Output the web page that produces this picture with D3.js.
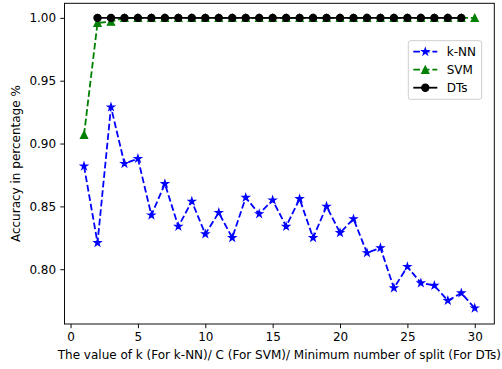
<!DOCTYPE html>
<html lang="en">
<head>
  <meta charset="UTF-8">
  <title>Accuracy</title>
  <script src="https://cdn.jsdelivr.net/npm/d3@7"></script>
  <style>
    body { margin: 0; background: #fff; }
    svg text { font-family: "DejaVu Sans", sans-serif; fill: #000; }
  </style>
</head>
<body>
  <div id="app"></div>
<script>
  // values
  const kValues = [1, 2, 3, 4, 5, 6, 7, 8, 9, 10, 11, 12, 13, 14, 15,
    16, 17, 18, 19, 20, 21, 22, 23, 24, 25, 26, 27, 28, 29, 30];
  const knnAcc = [0.882, 0.821, 0.929, 0.884, 0.888, 0.843, 0.868, 0.834, 0.854, 0.828,
    0.845, 0.825, 0.857, 0.844, 0.855, 0.834, 0.856, 0.825, 0.850, 0.829,
    0.840, 0.813, 0.817, 0.785, 0.802, 0.789, 0.787, 0.775, 0.781, 0.769];
  const svmAcc = [0.907, 0.996, 0.997, 1, 1, 1, 1, 1, 1, 1,
    1, 1, 1, 1, 1, 1, 1, 1, 1, 1,
    1, 1, 1, 1, 1, 1, 1, 1, 1, 1];
  const splitValues = [2, 3, 4, 5, 6, 7, 8, 9, 10, 11, 12, 13, 14, 15, 16,
    17, 18, 19, 20, 21, 22, 23, 24, 25, 26, 27, 28, 29];
  const dtAcc = [1, 1, 1, 1, 1, 1, 1, 1, 1, 1, 1, 1, 1, 1,
    1, 1, 1, 1, 1, 1, 1, 1, 1, 1, 1, 1, 1, 1];
  const xTicks = [0, 5, 10, 15, 20, 25, 30];
  const yTicks = [0.80, 0.85, 0.90, 0.95, 1.00];

  const w = 502;
  const h = 369;
  const padL = 64.5, padR = 494.3, padT = 3.3, padB = 324;
  const fs = 12;
  const k = 1.2; // pt -> px

  const xScale = d3.scaleLinear().domain([-0.45, 31.45]).range([padL, padR]);
  const yScale = d3.scaleLinear().domain([0.7564, 1.0116]).range([padB, padT]);

  const svg = d3.select('#app').append('svg')
    .attr('width', w)
    .attr('height', h);

  // marker shapes, matplotlib-like with markersize 6pt
  const ms = 3 * k;
  function starPath(r) {
    const pts = [];
    for (let i = 0; i < 10; i++) {
      const rr = i % 2 === 0 ? r : r * 0.381966;
      const a = -Math.PI / 2 + i * Math.PI / 5;
      pts.push([rr * Math.cos(a), rr * Math.sin(a)]);
    }
    return 'M' + pts.map(p => p.join(',')).join('L') + 'Z';
  }
  const markers = {
    star: starPath(ms),
    tri: `M0,${-ms}L${-ms},${ms}L${ms},${ms}Z`,
    circle: d3.symbol().type(d3.symbolCircle).size(Math.PI * ms * ms)()
  };

  const dash = `${3.7 * 1.5 * k},${1.6 * 1.5 * k}`;
  const series = [
    { name: 'k-NN', xs: kValues, ys: knnAcc, color: '#0000ff', dash: dash, marker: 'star' },
    { name: 'SVM', xs: kValues, ys: svmAcc, color: '#008000', dash: dash, marker: 'tri' },
    { name: 'DTs', xs: splitValues, ys: dtAcc, color: '#000000', dash: null, marker: 'circle' }
  ];

  const line = d3.line().x(d => xScale(d[0])).y(d => yScale(d[1]));

  const plot = svg.append('g');

  series.forEach(s => {
    const pts = s.xs.map((x, i) => [x, s.ys[i]]);
    plot.append('path')
      .attr('d', line(pts))
      .attr('fill', 'none')
      .attr('stroke', s.color)
      .attr('stroke-width', 1.5 * k)
      .attr('stroke-dasharray', s.dash);
    plot.selectAll(null)
      .data(pts)
      .enter()
      .append('path')
      .attr('d', markers[s.marker])
      .attr('transform', d => `translate(${xScale(d[0])},${yScale(d[1])})`)
      .attr('fill', s.color)
      .attr('stroke', s.color)
      .attr('stroke-width', k);
  });

  // axes
  const xAxis = d3.axisBottom(xScale).tickValues(xTicks).tickSize(3.5 * k).tickPadding(3.5 * k);
  const yAxis = d3.axisLeft(yScale).tickValues(yTicks).tickFormat(d3.format('.2f'))
    .tickSize(3.5 * k).tickPadding(3.5 * k);

  const gx = svg.append('g')
    .attr('transform', `translate(0, ${padB})`)
    .call(xAxis);
  const gy = svg.append('g')
    .attr('transform', `translate(${padL}, 0)`)
    .call(yAxis);
  [gx, gy].forEach(g => {
    g.select('.domain').remove();
    g.selectAll('line').attr('stroke', '#000').attr('stroke-width', 0.8 * k);
    g.selectAll('text').style('font-size', fs + 'px').attr('fill', '#000');
  });

  svg.append('rect')
    .attr('x', padL).attr('y', padT)
    .attr('width', padR - padL).attr('height', padB - padT)
    .attr('fill', 'none')
    .attr('stroke', '#000')
    .attr('stroke-width', 0.8 * k);

  svg.append('text')
    .attr('x', (padL + padR) / 2)
    .attr('y', 358.5)
    .attr('text-anchor', 'middle')
    .style('font-size', fs + 'px')
    .text('The value of k (For k-NN)/ C (For SVM)/ Minimum number of split (For DTs)');

  svg.append('text')
    .attr('transform', `translate(20, ${(padT + padB) / 2}) rotate(-90)`)
    .attr('text-anchor', 'middle')
    .style('font-size', fs + 'px')
    .text('Accuracy in percentage %');

  // legend
  const lg = svg.append('g').attr('transform', 'translate(408.3, 40.7)');
  lg.append('rect')
    .attr('width', 73.4).attr('height', 58.6)
    .attr('rx', 2.4).attr('ry', 2.4)
    .attr('fill', 'rgba(255,255,255,0.8)')
    .attr('stroke', '#cccccc')
    .attr('stroke-width', 0.8 * k);
  series.forEach((s, i) => {
    const yy = 11 + i * 18;
    lg.append('line')
      .attr('x1', 5).attr('x2', 29)
      .attr('y1', yy).attr('y2', yy)
      .attr('stroke', s.color)
      .attr('stroke-width', 1.5 * k)
      .attr('stroke-dasharray', s.dash);
    lg.append('path')
      .attr('d', markers[s.marker])
      .attr('transform', `translate(17, ${yy})`)
      .attr('fill', s.color)
      .attr('stroke', s.color)
      .attr('stroke-width', k);
    lg.append('text')
      .attr('x', 38.4)
      .attr('y', yy)
      .attr('dy', '0.35em')
      .style('font-size', fs + 'px')
      .text(s.name);
  });
</script>
</body>
</html>
